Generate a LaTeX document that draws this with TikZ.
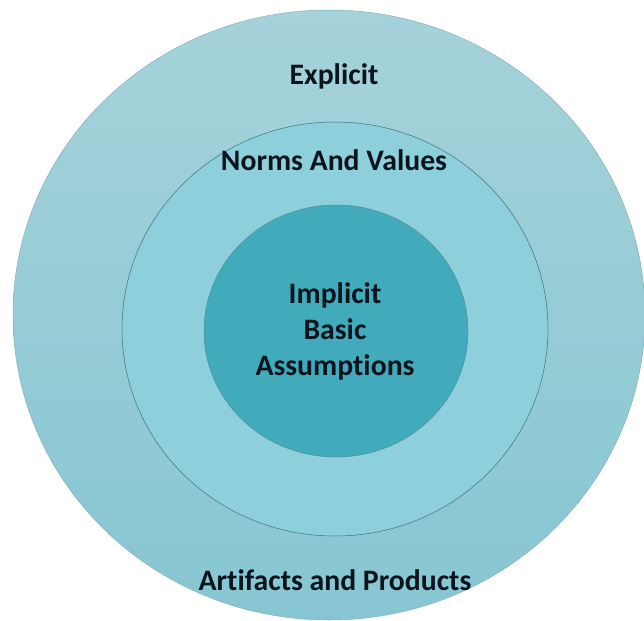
\documentclass[tikz,border=0pt]{standalone}
\usepackage{fontspec}
\setmainfont{Carlito}[Ligatures={NoCommon}]
\usetikzlibrary{positioning}
\definecolor{ringTop}{HTML}{A6D2DA}
\definecolor{ringBot}{HTML}{86C6D2}
\definecolor{ringMid}{HTML}{8DD0DB}
\definecolor{ringCore}{HTML}{41ABBC}
\definecolor{ringEdge}{HTML}{4F8F99}
\definecolor{labelInk}{HTML}{0A141C}

\begin{document}
\begin{tikzpicture}[
    x=1pt, y=-1pt,
    layer/.style={font=\bfseries\fontsize{29.7}{36}\selectfont, text=labelInk, align=center}
]
    \useasboundingbox (0,0) rectangle (644,620);
    % three nested rings
    \shade[top color=ringTop, bottom color=ringBot, draw=ringEdge!70, line width=0.5pt]
        (329,315) ellipse [x radius=316, y radius=305];
    \filldraw[fill=ringMid, draw=ringEdge!80!black, line width=0.5pt]
        (335,329) ellipse [x radius=213, y radius=207];
    \filldraw[fill=ringCore, draw=ringEdge, line width=0.5pt]
        (336,331) ellipse [x radius=132, y radius=126];

    \node[layer] (expl) at (334,76) {Explicit};
    \node[layer] (norms) at (334,160) {Norms And Values};
    \node[layer] (core) at (335,331) {Implicit\\Basic\\Assumptions};
    \node[layer] (arti) at (335,580) {Artifacts and Products};
\end{tikzpicture}
\end{document}
